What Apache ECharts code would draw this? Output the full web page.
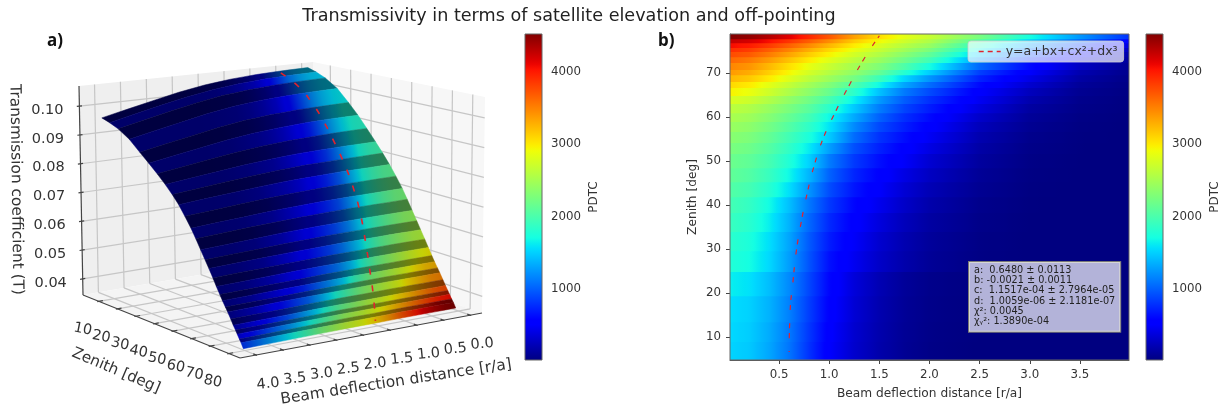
<!DOCTYPE html>
<html>
<head>
<meta charset="utf-8">
<style>html,body{margin:0;padding:0;background:#fff}#c{width:1228px;height:418px}</style>
<script src="https://cdn.jsdelivr.net/npm/echarts@6/dist/echarts.min.js"></script>
</head>
<body>
<div id="c"></div>
<script>
// ---------- values ----------
const titleText = 'Transmissivity in terms of satellite elevation and off-pointing';
const xTitle = 'Beam deflection distance [r/a]';
const zenTitle = 'Zenith [deg]';
const tTitle = 'Transmission coefficient (T)';
const cbTitle = 'PDTC';
const fitName = 'y=a+bx+cx²+dx³';
const fitStats = 'a:  0.6480 ± 0.0113\nb: -0.0021 ± 0.0011\nc:  1.1517e-04 ± 2.7964e-05\nd:  1.0059e-06 ± 2.1181e-07\nχ²: 0.0045\nχᵧ²: 1.3890e-04';

const xTicks = [0.5, 1.0, 1.5, 2.0, 2.5, 3.0, 3.5];
const xTicks3d = [0, 0.5, 1, 1.5, 2, 2.5, 3, 3.5, 4];
const zenTicksFlat = [10, 20, 30, 40, 50, 60, 70];
const zenTicks3d = [10, 20, 30, 40, 50, 60, 70, 80];
const tTicks = [0.04, 0.05, 0.06, 0.07, 0.08, 0.09, 0.10];
const cbTicks = [1000, 2000, 3000, 4000];

// zenith row edges of the map
const zenithEdges = [4.8,8.9,13.4,19.3,24.8,29.5,33.9,38.2,41.8,45.2,48.4,51.6,54.1,56.6,58.9,60.9,63,64.8,66.6,68,69.5,70.7,72.3,73.6,74.8,75.7,76.8,77.7,78.9];
// deflection samples of the PDTC rows
const pdtcX = [0.01,0.2,0.4,0.6,0.8,1,1.25,1.5,1.75,2,2.5,3,3.5,3.99];
const pdtcRows = [
[1520,1470,1320,1100,800,520,320,190,100,50,20,20,20,20],
[1540,1490,1340,1120,820,540,330,195,105,55,22,20,20,20],
[1560,1510,1370,1150,850,570,350,205,110,60,24,20,20,20],
[1640,1580,1420,1190,890,600,370,220,120,65,26,20,20,20],
[1770,1710,1540,1280,950,650,460,300,190,110,40,20,20,20],
[1820,1750,1570,1310,980,700,500,330,210,125,45,20,20,20],
[1900,1820,1640,1370,1040,760,550,385,250,155,58,22,20,20],
[1960,1880,1700,1430,1110,830,600,450,300,190,70,25,20,20],
[2040,1970,1810,1570,1240,920,670,510,350,230,90,30,20,20],
[2120,2050,1900,1680,1380,1020,740,570,410,280,110,36,20,20],
[2180,2120,1980,1770,1510,1130,830,640,500,340,140,45,22,20],
[2260,2200,2060,1860,1620,1290,930,720,560,410,170,55,24,20],
[2340,2280,2140,1950,1740,1480,1060,800,630,480,205,70,28,20],
[2430,2370,2230,2050,1850,1590,1190,900,710,550,250,90,34,20],
[2520,2460,2320,2150,1960,1680,1330,1010,780,620,310,115,42,22],
[2620,2560,2420,2260,2080,1830,1470,1130,880,700,390,150,55,24],
[2780,2710,2560,2390,2210,1990,1640,1260,990,790,470,200,70,28],
[2960,2880,2720,2540,2360,2160,1830,1440,1120,910,530,260,90,34],
[3080,3000,2840,2660,2480,2300,2030,1680,1310,1060,620,330,120,42],
[3240,3160,3000,2810,2620,2450,2230,1920,1530,1240,730,420,160,55],
[3380,3300,3130,2940,2750,2580,2380,2140,1800,1490,860,510,210,75],
[3480,3410,3240,3050,2860,2690,2490,2290,2020,1720,1040,620,280,100],
[3620,3540,3380,3190,3000,2820,2620,2430,2200,1950,1280,760,390,140],
[3760,3690,3530,3340,3140,2960,2740,2560,2340,2120,1490,930,510,190],
[3900,3830,3670,3490,3290,3090,2860,2670,2470,2270,1680,1110,660,270],
[4060,3990,3840,3660,3460,3250,2990,2780,2590,2420,1860,1300,830,390],
[4260,4190,4050,3870,3670,3450,3150,2920,2720,2550,2050,1500,1020,560],
[4510,4450,4320,4140,3930,3700,3350,3060,2840,2680,2250,1720,1250,800]
];
// deflection samples of the transmission rows (one row per zenith edge)
const transX = [0.01,0.5,1,1.5,2,2.5,3,3.5,3.99];
const transRows = [
[.1059,.1057,.1053,.1046,.1035,.1019,.0999,.0979,.0959],
[.1049,.1047,.1043,.1036,.1025,.1009,.0990,.0970,.0950],
[.1034,.1032,.1028,.1021,.1011,.0995,.0976,.0956,.0937],
[.1005,.1003,.0999,.0993,.0983,.0968,.0949,.0931,.0912],
[.0963,.0961,.0958,.0952,.0943,.0929,.0912,.0895,.0878],
[.0925,.0924,.0921,.0915,.0907,.0895,.0880,.0865,.0850],
[.0885,.0884,.0881,.0877,.0870,.0860,.0848,.0835,.0823],
[.0845,.0844,.0842,.0839,.0833,.0825,.0815,.0805,.0795],
[.0811,.0810,.0808,.0806,.0801,.0794,.0786,.0777,.0769],
[.0777,.0776,.0775,.0772,.0769,.0763,.0756,.0749,.0742],
[.0742,.0741,.0740,.0738,.0734,.0729,.0723,.0716,.0710],
[.0705,.0704,.0703,.0701,.0698,.0694,.0688,.0683,.0677],
[.0672,.0671,.0671,.0669,.0666,.0662,.0658,.0653,.0648],
[.0638,.0638,.0637,.0635,.0633,.0630,.0625,.0621,.0617],
[.0607,.0607,.0606,.0605,.0603,.0600,.0596,.0593,.0589],
[.0580,.0580,.0579,.0578,.0576,.0574,.0571,.0568,.0565],
[.0552,.0552,.0551,.0550,.0549,.0547,.0544,.0542,.0539],
[.0527,.0527,.0526,.0525,.0524,.0522,.0520,.0517,.0515],
[.0503,.0503,.0502,.0502,.0501,.0499,.0497,.0495,.0493],
[.0485,.0485,.0484,.0484,.0483,.0481,.0480,.0478,.0476],
[.0467,.0467,.0467,.0466,.0465,.0464,.0462,.0461,.0459],
[.0453,.0453,.0453,.0452,.0451,.0450,.0449,.0447,.0446],
[.0433,.0433,.0433,.0432,.0432,.0431,.0429,.0428,.0427],
[.0416,.0416,.0416,.0415,.0415,.0414,.0412,.0411,.0410],
[.0402,.0402,.0402,.0401,.0401,.0400,.0399,.0398,.0397],
[.0391,.0391,.0391,.0390,.0390,.0389,.0388,.0387,.0386],
[.0378,.0378,.0378,.0377,.0377,.0376,.0375,.0374,.0373],
[.0368,.0368,.0368,.0367,.0367,.0366,.0365,.0364,.0363],
[.0352,.0352,.0352,.0351,.0351,.0350,.0349,.0348,.0347]
];
// fitted curve
const fitZenith = [6.6,16,23,29.3,36.1,42.7,49,55.2,61.6,67.7,73,78.5];
const fitDeflection = [0.60,0.61,0.64,0.67,0.72,0.78,0.85,0.94,1.07,1.21,1.34,1.50];
const fitTrans = [.1054,.1017,.0974,.0923,.0861,.0799,.0733,.0656,.0570,.0488,.0423,.0357];

// ---------- scales ----------
const PDTC_MIN = 20, PDTC_MAX = 4520;
const jetAnch = {
  r: [[0,0],[.35,0],[.66,1],[.89,1],[1,.5]],
  g: [[0,0],[.125,0],[.375,1],[.64,1],[.91,0],[1,0]],
  b: [[0,.5],[.11,1],[.34,1],[.65,0],[1,0]]
};
function ch(a, t) {
  for (let i = 1; i < a.length; i++) if (t <= a[i][0]) {
    const f = (t - a[i-1][0]) / (a[i][0] - a[i-1][0]);
    return a[i-1][1] + f * (a[i][1] - a[i-1][1]);
  }
  return a[a.length-1][1];
}
function jet(v, k) {
  const t = Math.max(0, Math.min(1, (v - PDTC_MIN) / (PDTC_MAX - PDTC_MIN)));
  const m = (k === undefined ? 1 : k) * 255;
  return 'rgb(' + Math.round(ch(jetAnch.r, t) * m) + ',' + Math.round(ch(jetAnch.g, t) * m) + ',' + Math.round(ch(jetAnch.b, t) * m) + ')';
}
// colour stops of one whole row, running from the first to the last deflection sample
function rowStops(i, k) {
  const r = pdtcRows[i], a = pdtcX[0], w = pdtcX[pdtcX.length-1] - a, s = [];
  for (let j = 0; j < r.length - 1; j++) for (let n = 0; n < 8; n++) {
    const f = n / 8;
    s.push({offset: (pdtcX[j] + (pdtcX[j+1] - pdtcX[j]) * f - a) / w, color: jet(r[j] + (r[j+1] - r[j]) * f, k)});
  }
  s.push({offset: 1, color: jet(r[r.length-1], k)});
  return s;
}

// box of the 3D axes and its picture on the page (view of the camera)
const box = {xa: -0.22, xb: 4.3, za: 1.5, zb: 86, ta: 0.0344, tb: 0.107};
const cam = {
  x0z0: [[315,255],[313,62]],  x1z0: [[83,295],[79,86]],
  x0z1: [[482,313],[485,97]],  x1z1: [[240,358],[237,128]]
};
function project(x, z, t) {
  const u = (x - box.xa) / (box.xb - box.xa), v = (z - box.za) / (box.zb - box.za), w = (t - box.ta) / (box.tb - box.ta);
  const out = [0, 0];
  for (let i = 0; i < 2; i++) {
    const bot = (1-u)*(1-v)*cam.x0z0[0][i] + u*(1-v)*cam.x1z0[0][i] + (1-u)*v*cam.x0z1[0][i] + u*v*cam.x1z1[0][i];
    const top = (1-u)*(1-v)*cam.x0z0[1][i] + u*(1-v)*cam.x1z0[1][i] + (1-u)*v*cam.x0z1[1][i] + u*v*cam.x1z1[1][i];
    out[i] = bot + (top - bot) * w;
  }
  return out;
}
function transAt(edge, x) {
  const r = transRows[edge];
  for (let i = 1; i < transX.length; i++) if (x <= transX[i]) {
    return r[i-1] + (r[i] - r[i-1]) * (x - transX[i-1]) / (transX[i] - transX[i-1]);
  }
  return r[r.length-1];
}

// ---------- 3D scaffold ----------
const {xa, xb, za, zb, ta, tb} = box;
const panes = [
  {c: [[xa,za,ta],[xb,za,ta],[xb,za,tb],[xa,za,tb]], fill: '#efefef'},
  {c: [[xa,za,ta],[xa,zb,ta],[xa,zb,tb],[xa,za,tb]], fill: '#f7f7f7'},
  {c: [[xa,za,ta],[xb,za,ta],[xb,zb,ta],[xa,zb,ta]], fill: '#f4f4f4'}
];
const gridLines = [];
xTicks3d.forEach(x => { gridLines.push([x,za,ta,x,zb,ta]); gridLines.push([x,za,ta,x,za,tb]); });
zenTicks3d.forEach(z => { gridLines.push([xa,z,ta,xb,z,ta]); gridLines.push([xa,z,ta,xa,z,tb]); });
tTicks.forEach(t => { gridLines.push([xa,za,t,xb,za,t]); gridLines.push([xa,za,t,xa,zb,t]); });
const axisLines = [[xb,za,ta,xb,za,tb],[xb,za,ta,xb,zb,ta],[xb,zb,ta,xa,zb,ta]];
const tickLines = [];
xTicks3d.forEach(x => tickLines.push([x,zb-1.5,ta,x,zb+0.5,ta]));
zenTicks3d.forEach(z => tickLines.push([xb-0.08,z,ta,xb+0.03,z,ta]));
tTicks.forEach(t => tickLines.push([xb-0.05,za,t,xb+0.05,za,t]));
const segs = gridLines.concat(axisLines, tickLines);
const nGrid = gridLines.length;

const labels3d = [];
xTicks3d.forEach(x => labels3d.push({t: x.toFixed(1), p: [x,zb,ta], d: [12,29], r: 0.1, s: 14.5}));
zenTicks3d.forEach(z => labels3d.push({t: String(z), p: [xb,z,ta], d: [-16,28], r: -0.2, s: 14.5}));
tTicks.forEach(t => labels3d.push({t: t.toFixed(2), p: [xb,za,t], d: [-32,4], r: 0, s: 14.5}));
labels3d.push({t: xTitle, p: [2,zb,ta], d: [33,47], r: 0.152, s: 15.4});
labels3d.push({t: zenTitle, p: [xb,44,ta], d: [-46,44], r: -0.40, s: 15.2});
labels3d.push({t: tTitle, p: [xb,za,0.071], d: [-65,0], r: -1.556, s: 15.4});

const rowItems = pdtcRows.map((_, i) => [i]);

const TEXT = '#333';
const FONT = 'DejaVu Sans';
const SHADE_LIT = 0.82, SHADE_DARK = 0.5;

function cbSeries(xi, yi) {
  return {
    type: 'custom', xAxisIndex: xi, yAxisIndex: yi, silent: true, data: [[PDTC_MIN, PDTC_MAX]],
    renderItem(p, api) {
      const a = api.coord([0, api.value(0)]), b = api.coord([1, api.value(1)]);
      const cs = [];
      for (let i = 0; i <= 64; i++) cs.push({offset: i / 64, color: jet(PDTC_MIN + (PDTC_MAX - PDTC_MIN) * i / 64)});
      return {type: 'rect', shape: {x: a[0], y: b[1], width: b[0] - a[0], height: a[1] - b[1]},
        style: {fill: {type: 'linear', x: 0, y: 1, x2: 0, y2: 0, colorStops: cs}, stroke: '#666', lineWidth: 1}};
    }
  };
}
function cbAxis(gi) {
  return {type: 'value', gridIndex: gi, position: 'right', min: PDTC_MIN, max: PDTC_MAX,
    name: cbTitle, nameLocation: 'middle', nameGap: 46, nameRotate: 90,
    nameTextStyle: {fontFamily: FONT, fontSize: 12, color: TEXT},
    axisLine: {show: false}, splitLine: {show: false},
    axisTick: {show: true, length: 4, customValues: cbTicks, lineStyle: {color: '#444'}},
    axisLabel: {show: true, customValues: cbTicks, formatter: v => String(v), margin: 9, fontFamily: FONT, fontSize: 11.8, color: TEXT}};
}

const option = {
  animation: false,
  backgroundColor: '#fff',
  title: [
    {text: titleText, left: 564, top: 2, textAlign: 'center', textStyle: {fontFamily: FONT, fontWeight: 'normal', fontSize: 17.6, color: '#222'}},
    {text: 'a)', left: 42, top: 28, textStyle: {fontFamily: 'Noto Sans', fontWeight: 'bold', fontSize: 17, color: '#111'}},
    {text: 'b)', left: 653, top: 28, textStyle: {fontFamily: 'Noto Sans', fontWeight: 'bold', fontSize: 17, color: '#111'}}
  ],
  legend: {
    data: [fitName], left: 968, top: 41, padding: [4, 6], itemWidth: 26, itemHeight: 10, itemGap: 6, selectedMode: false,
    backgroundColor: 'rgba(255,255,255,0.7)', borderColor: 'rgba(204,204,204,0.8)', borderWidth: 1, borderRadius: 3,
    itemStyle: {color: 'rgba(0,0,0,0)', borderWidth: 0},
    lineStyle: {type: [5, 4], width: 1.4},
    textStyle: {fontFamily: FONT, fontSize: 12.5, color: TEXT}
  },
  grid: [
    {left: 0, top: 0, width: 1228, height: 418},
    {left: 730, top: 34, width: 399, height: 326},
    {left: 525, top: 34, width: 17, height: 326},
    {left: 1146, top: 34, width: 17, height: 326}
  ],
  xAxis: [
    {type: 'value', gridIndex: 0, min: 0, max: 1228, show: false},
    {type: 'value', gridIndex: 1, min: 0.01, max: 3.99, name: xTitle, nameLocation: 'middle', nameGap: 28,
      nameTextStyle: {fontFamily: FONT, fontSize: 12.2, color: TEXT},
      axisLine: {show: true, onZero: false, lineStyle: {color: '#555'}}, splitLine: {show: false},
      axisTick: {show: true, length: 4, customValues: xTicks, lineStyle: {color: '#444'}},
      axisLabel: {show: true, customValues: xTicks, formatter: v => v.toFixed(1), margin: 9, fontFamily: FONT, fontSize: 11.8, color: TEXT}},
    {type: 'value', gridIndex: 2, min: 0, max: 1, show: false},
    {type: 'value', gridIndex: 3, min: 0, max: 1, show: false}
  ],
  yAxis: [
    {type: 'value', gridIndex: 0, min: 0, max: 418, inverse: true, show: false},
    {type: 'value', gridIndex: 1, min: 4.8, max: 78.9, name: zenTitle, nameLocation: 'middle', nameGap: 31, nameRotate: 90,
      nameTextStyle: {fontFamily: FONT, fontSize: 12.2, color: TEXT},
      axisLine: {show: true, onZero: false, lineStyle: {color: '#555'}}, splitLine: {show: false},
      axisTick: {show: true, length: 4, customValues: zenTicksFlat, lineStyle: {color: '#444'}},
      axisLabel: {show: true, customValues: zenTicksFlat, margin: 9, fontFamily: FONT, fontSize: 11.8, color: TEXT}},
    cbAxis(2),
    cbAxis(3)
  ],
  graphic: [
    {type: 'rect', z: 50, shape: {x: 730, y: 34, width: 399, height: 326}, style: {fill: 'none', stroke: '#666', lineWidth: 1}},
    {type: 'text', z: 60, left: 968, top: 261, style: {
      text: fitStats, fontFamily: FONT, fontSize: 9.7, lineHeight: 10.3, fill: '#222',
      backgroundColor: 'rgba(255,255,255,0.7)', borderColor: '#777', borderWidth: 1, padding: [3, 5, 5, 5]
    }}
  ],
  series: [
    // panes
    {type: 'custom', xAxisIndex: 0, yAxisIndex: 0, silent: true, z: 1, data: panes.map((_, i) => [i]),
      renderItem(p, api) {
        const o = panes[api.value(0)];
        return {type: 'polygon', shape: {points: o.c.map(c => api.coord(project(c[0], c[1], c[2])))}, style: {fill: o.fill}};
      }},
    // grid lines, axis lines, ticks
    {type: 'custom', xAxisIndex: 0, yAxisIndex: 0, silent: true, z: 2, data: segs.map((_, i) => [i]),
      renderItem(p, api) {
        const i = api.value(0), s = segs[i];
        const a = api.coord(project(s[0], s[1], s[2])), b = api.coord(project(s[3], s[4], s[5]));
        return {type: 'line', shape: {x1: a[0], y1: a[1], x2: b[0], y2: b[1]},
          style: {stroke: i < nGrid ? '#c6c6c6' : '#444', lineWidth: 1.2}};
      }},
    // surface, one strip per zenith row
    {type: 'custom', xAxisIndex: 0, yAxisIndex: 0, silent: true, z: 3, data: rowItems,
      renderItem(p, api) {
        const i = api.value(0), z0 = zenithEdges[i], z1 = zenithEdges[i+1];
        const k = i % 2 === 0 ? SHADE_DARK : SHADE_LIT;
        const lo = pdtcX.map(x => api.coord(project(x, z0, transAt(i, x))));
        const hi = pdtcX.map(x => api.coord(project(x, z1, transAt(i+1, x))));
        const n = lo.length - 1;
        const a = [(lo[0][0]+hi[0][0])/2, (lo[0][1]+hi[0][1])/2], b = [(lo[n][0]+hi[n][0])/2, (lo[n][1]+hi[n][1])/2];
        const g = {type: 'linear', global: true, x: a[0], y: a[1], x2: b[0], y2: b[1], colorStops: rowStops(i, k)};
        return {type: 'polygon', shape: {points: lo.concat(hi.slice().reverse())}, style: {fill: g, stroke: g, lineWidth: 0.5}};
      }},
    // fit on the surface
    {type: 'line', name: 'fit3d', xAxisIndex: 0, yAxisIndex: 0, z: 4, symbol: 'none', silent: true, smooth: true,
      data: fitZenith.map((z, i) => project(fitDeflection[i], z, fitTrans[i])),
      itemStyle: {color: '#e0232e'},
      lineStyle: {color: '#e0232e', width: 1.6, type: [6, 11]}},
    // tick labels and titles of the 3D axes
    {type: 'custom', xAxisIndex: 0, yAxisIndex: 0, silent: true, z: 5, data: labels3d.map((_, i) => [i]),
      renderItem(p, api) {
        const l = labels3d[api.value(0)];
        const q = api.coord(project(l.p[0], l.p[1], l.p[2]));
        return {type: 'text', x: q[0] + l.d[0], y: q[1] + l.d[1], rotation: l.r,
          style: {text: l.t, fontFamily: FONT, fontSize: l.s, fill: TEXT, align: 'center', verticalAlign: 'middle'}};
      }},
    // map of panel b, one band per zenith row
    {type: 'custom', xAxisIndex: 1, yAxisIndex: 1, silent: true, z: 3, data: rowItems,
      renderItem(p, api) {
        const i = api.value(0), n = pdtcX.length - 1;
        const a = api.coord([pdtcX[0], zenithEdges[i]]), b = api.coord([pdtcX[n], zenithEdges[i+1]]);
        const g = {type: 'linear', x: 0, y: 0, x2: 1, y2: 0, colorStops: rowStops(i)};
        return {type: 'rect', shape: {x: a[0], y: b[1] - (i < pdtcRows.length - 1 ? 0.7 : 0), width: b[0] - a[0], height: a[1] - b[1] + (i < pdtcRows.length - 1 ? 0.7 : 0)}, style: {fill: g}};
      }},
    {type: 'line', name: fitName, xAxisIndex: 1, yAxisIndex: 1, z: 4, symbol: 'none', silent: true, smooth: true,
      data: fitZenith.map((z, i) => [fitDeflection[i], z]),
      itemStyle: {color: '#e0232e'},
      lineStyle: {color: '#e0232e', width: 1.2, type: [5, 5, 5, 13], dashOffset: 14}},
    cbSeries(2, 2),
    cbSeries(3, 3)
  ]
};
const chart = echarts.init(document.getElementById('c'), null, {renderer: 'canvas'});
chart.setOption(option);
</script>
</body>
</html>
